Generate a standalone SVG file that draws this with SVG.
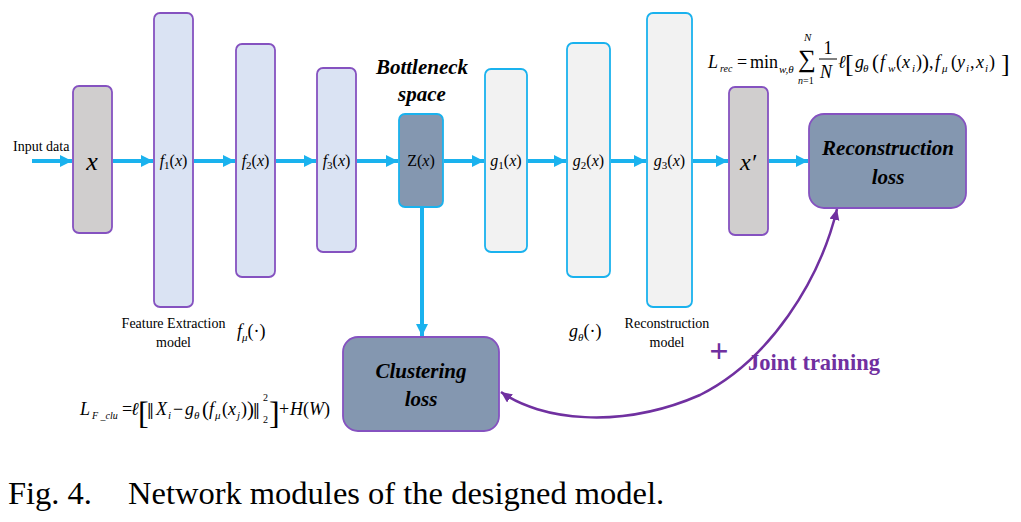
<svg xmlns="http://www.w3.org/2000/svg" width="1021" height="522" viewBox="0 0 1021 522" font-family="'Liberation Serif', 'Times New Roman', serif">
<defs>
<style>
text{font-family:"Liberation Serif","Times New Roman",serif;fill:#000}
.box{stroke-width:1.8}
.pur{stroke:#8552C0}
.cy{stroke:#1AB2EE}
.gray{fill:#D0CECE}
.lb{fill:#DAE3F3}
.lg{fill:#F2F2F2}
.dk{fill:#8497B0}
.it{font-style:italic}
.lbl{font-size:16px;text-anchor:middle}
.bi{font-weight:bold;font-style:italic;font-size:21px;text-anchor:middle}
.sm{font-size:14px;text-anchor:middle}
.m{font-size:18px}
.s{font-size:11px;font-style:italic}
.conn{stroke:#1AB2EE;stroke-width:4;fill:none}
</style>
<marker id="ah" markerUnits="userSpaceOnUse" markerWidth="14" markerHeight="14" refX="12" refY="6" orient="auto">
<path d="M0,0 L12,6 L0,12 Z" fill="#1AB2EE"/>
</marker>
<marker id="ph" markerUnits="userSpaceOnUse" markerWidth="14" markerHeight="14" refX="11" refY="5" orient="auto-start-reverse">
<path d="M0,0 L11,5 L0,10 Z" fill="#7030A0"/>
</marker>
</defs>
<rect width="1021" height="522" fill="#fff"/>

<g id="connectors">
<line class="conn" x1="32" y1="161" x2="72" y2="161" marker-end="url(#ah)"/>
<line class="conn" x1="113" y1="161" x2="153" y2="161" marker-end="url(#ah)"/>
<line class="conn" x1="194" y1="161" x2="235" y2="161" marker-end="url(#ah)"/>
<line class="conn" x1="276" y1="161" x2="316" y2="161" marker-end="url(#ah)"/>
<line class="conn" x1="357" y1="161" x2="398" y2="161" marker-end="url(#ah)"/>
<line class="conn" x1="444" y1="161" x2="484" y2="161" marker-end="url(#ah)"/>
<line class="conn" x1="528" y1="161" x2="566" y2="161" marker-end="url(#ah)"/>
<line class="conn" x1="611" y1="161" x2="646" y2="161" marker-end="url(#ah)"/>
<line class="conn" x1="693" y1="161" x2="728" y2="161" marker-end="url(#ah)"/>
<line class="conn" x1="769" y1="161" x2="808" y2="161" marker-end="url(#ah)"/>
<line class="conn" x1="422" y1="208" x2="422" y2="336" marker-end="url(#ah)"/>
<path d="M501,392 C540,420 620,430 700,395 C770,360 820,280 837,209" fill="none" stroke="#7030A0" stroke-width="2.5" marker-start="url(#ph)" marker-end="url(#ph)"/>
</g>

<text x="13" y="151" font-size="14">Input data</text>

<g id="n-x">
<rect class="box pur gray" x="73" y="86" width="39" height="147" rx="6"/>
<text x="92" y="170" font-size="26" class="it" text-anchor="middle">x</text>
</g>
<g id="n-f1">
<rect class="box pur lb" x="154" y="13" width="39" height="294" rx="6"/>
<text x="173.5" y="166" class="lbl"><tspan class="it">f</tspan><tspan font-size="11" dy="3">1</tspan><tspan dy="-3">(</tspan><tspan class="it">x</tspan>)</text>
</g>
<g id="n-f2">
<rect class="box pur lb" x="236" y="44" width="39" height="233" rx="6"/>
<text x="255.5" y="166" class="lbl"><tspan class="it">f</tspan><tspan font-size="11" dy="3">2</tspan><tspan dy="-3">(</tspan><tspan class="it">x</tspan>)</text>
</g>
<g id="n-f3">
<rect class="box pur lb" x="317" y="68" width="39" height="184" rx="6"/>
<text x="336.5" y="166" class="lbl"><tspan class="it">f</tspan><tspan font-size="11" dy="3">3</tspan><tspan dy="-3">(</tspan><tspan class="it">x</tspan>)</text>
</g>
<g id="n-z">
<text x="422" y="74" class="bi">Bottleneck</text>
<text x="422" y="101" class="bi">space</text>
<rect class="box cy dk" x="399" y="114" width="44" height="93" rx="6"/>
<text x="421" y="166" class="lbl">Z(<tspan class="it">x</tspan>)</text>
</g>
<g id="n-g1">
<rect class="box cy lg" x="485" y="69" width="42" height="183" rx="6"/>
<text x="506" y="166" class="lbl"><tspan class="it">g</tspan><tspan font-size="11" dy="3">1</tspan><tspan dy="-3">(</tspan><tspan class="it">x</tspan>)</text>
</g>
<g id="n-g2">
<rect class="box cy lg" x="567" y="43" width="43" height="234" rx="6"/>
<text x="588.5" y="166" class="lbl"><tspan class="it">g</tspan><tspan font-size="11" dy="3">2</tspan><tspan dy="-3">(</tspan><tspan class="it">x</tspan>)</text>
</g>
<g id="n-g3">
<rect class="box cy lg" x="647" y="13" width="45" height="294" rx="6"/>
<text x="669.5" y="166" class="lbl"><tspan class="it">g</tspan><tspan font-size="11" dy="3">3</tspan><tspan dy="-3">(</tspan><tspan class="it">x</tspan>)</text>
</g>
<g id="n-xp">
<rect class="box pur gray" x="729" y="87" width="39" height="148" rx="6"/>
<text x="748" y="170" font-size="24" class="it" text-anchor="middle">x′</text>
</g>
<g id="n-rec">
<rect class="box pur dk" x="809" y="114" width="157" height="94" rx="15"/>
<text x="888" y="155" class="bi">Reconstruction</text>
<text x="888" y="184" class="bi">loss</text>
</g>
<g id="n-clu">
<rect class="box pur dk" x="343" y="337" width="156" height="94" rx="15"/>
<text x="421" y="378" class="bi">Clustering</text>
<text x="421" y="406" class="bi">loss</text>
</g>

<text x="173.5" y="328" class="sm">Feature Extraction</text>
<text x="173.5" y="347" class="sm">model</text>
<text x="237" y="337" font-size="18"><tspan class="it">f</tspan><tspan class="s" dy="4">μ</tspan><tspan dy="-4">(·)</tspan></text>
<text x="569" y="337" font-size="18"><tspan class="it">g</tspan><tspan class="s" dy="4">θ</tspan><tspan dy="-4">(·)</tspan></text>
<text x="667" y="328" class="sm">Reconstruction</text>
<text x="667" y="347" class="sm">model</text>

<text x="719" y="362" font-size="34" font-weight="bold" text-anchor="middle" style="fill:#7030A0">+</text>
<text x="748" y="370" font-size="22.5" font-weight="bold" style="fill:#7030A0">Joint training</text>

<g id="formula-rec">
<text x="708" y="68" class="m it">L</text>
<text x="720" y="72" font-size="10" class="it">rec</text>
<text x="737" y="68" class="m">=</text>
<text x="750" y="68" class="m">min</text>
<text x="779" y="73" class="s">w,θ</text>
<text x="798" y="67" font-size="25">∑</text>
<text x="804" y="41" class="s">N</text>
<text x="798" y="84" font-size="10"><tspan class="it">n</tspan>=1</text>
<text x="828" y="54" class="m" text-anchor="middle">1</text>
<line x1="819" y1="59" x2="837" y2="59" stroke="#000" stroke-width="1"/>
<text x="826" y="78" class="m it" text-anchor="middle">N</text>
<text x="838" y="68" class="m it">ℓ</text>
<text x="845" y="72" font-size="26">[</text>
<text y="68" class="m"><tspan x="855" class="it">g</tspan><tspan x="863" y="72" class="s">θ</tspan><tspan x="872" y="69" font-size="21">(</tspan><tspan x="880" y="68" class="it">f</tspan><tspan x="888" y="72" class="s">w</tspan><tspan x="896" y="68">(</tspan><tspan class="it">x</tspan><tspan x="912" y="72" class="s">i</tspan><tspan x="916" y="68">)</tspan><tspan y="69" font-size="21">)</tspan><tspan y="68">,</tspan><tspan x="935" class="it">f</tspan><tspan x="942" y="72" class="s">μ</tspan><tspan x="951" y="68">(</tspan><tspan class="it">y</tspan><tspan x="966" y="72" class="s">i</tspan><tspan x="970" y="68">,</tspan><tspan x="976" class="it">x</tspan><tspan x="985" y="72" class="s">i</tspan><tspan x="989" y="68">)</tspan></text>
<text x="1001" y="72" font-size="26">]</text>
</g>

<g id="formula-clu">
<text x="80" y="415" class="m it">L</text>
<text x="92" y="419" font-size="10" class="it">F _clu</text>
<text x="122" y="415" class="m">=</text>
<text x="131" y="415" class="m it">ℓ</text>
<text x="138" y="424" font-size="32">[</text>
<text y="415" class="m"><tspan x="147" y="419" font-size="24">‖</tspan><tspan x="156" y="415" class="it">X</tspan><tspan x="168" y="419" class="s">i</tspan><tspan x="173" y="415">−</tspan><tspan x="185" class="it">g</tspan><tspan x="194" y="419" class="s">θ</tspan><tspan x="202" y="416" font-size="21">(</tspan><tspan x="209" y="415" class="it">f</tspan><tspan x="215" y="419" class="s">μ</tspan><tspan x="222" y="415">(</tspan><tspan class="it">x</tspan><tspan x="237" y="419" class="s">j</tspan><tspan x="241" y="415">)</tspan><tspan y="416" font-size="21">)</tspan><tspan x="253" y="419" font-size="24">‖</tspan></text>
<text x="263" y="401" font-size="10">2</text>
<text x="263" y="423" font-size="10">2</text>
<text x="269" y="424" font-size="32">]</text>
<text x="279" y="415" class="m">+</text>
<text x="290" y="415" class="m"><tspan class="it">H</tspan>(<tspan class="it">W</tspan>)</text>
</g>

<text x="8" y="504" font-size="32.5">Fig. 4.</text>
<text x="128" y="504" font-size="32.5">Network modules of the designed model.</text>
</svg>
